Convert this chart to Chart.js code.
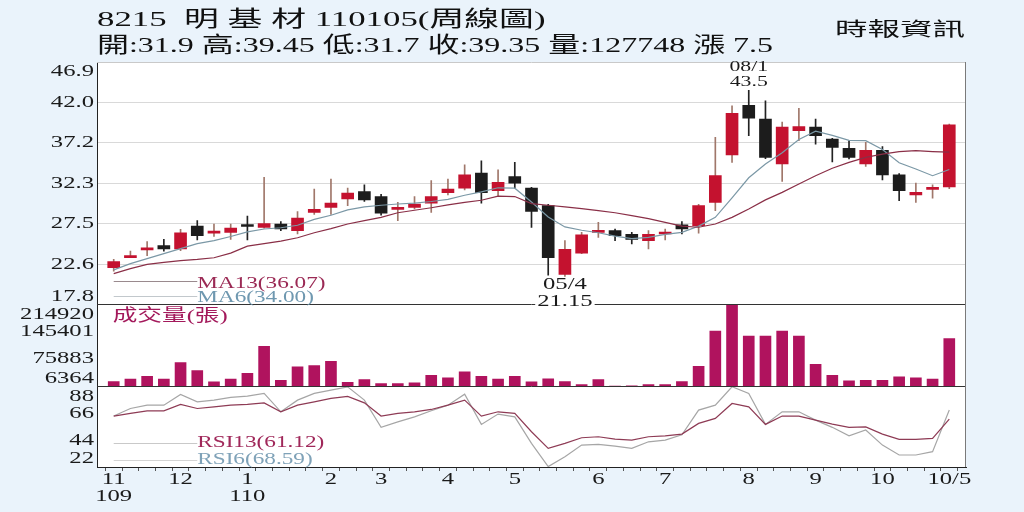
<!DOCTYPE html>
<html>
<head>
<meta charset="utf-8">
<script src="https://cdn.jsdelivr.net/npm/chart.js@4.4.1/dist/chart.umd.min.js"></script>
<style>
  html, body { margin: 0; padding: 0; background: #eaf3fb; width: 1024px; height: 512px; overflow: hidden; }
  #wrap { position: relative; width: 1024px; height: 512px; }
  #c { position: absolute; left: 0; top: 0; }
  .t { position: absolute; font-family: "Liberation Serif", "Noto Sans CJK TC", serif; color: #111;
       white-space: pre; line-height: 1; transform-origin: 0 0; }
</style>
</head>
<body>
<div id="wrap">
  <canvas id="c" width="1024" height="512"></canvas>
  <div class="t" data-w="448" style="left:97px;top:8px;font-size:22px">8215  明 基 材 110105(周線圖)</div>
  <div class="t" data-w="676" style="left:97px;top:34px;font-size:22px">開:31.9 高:39.45 低:31.7 收:39.35 量:127748 漲 7.5</div>
  <div class="t" data-w="130" style="left:835px;top:20px;font-size:19px">時報資訊</div>
</div>
<script>
// weekly candles, 109/11 -> 110/10
var openP  = [22.2, 23.4, 24.35, 24.85, 24.45, 27.2, 26.35, 26.45, 27.35, 27.05, 27.45, 26.65, 28.85, 29.45, 30.45, 31.35, 30.75,
              29.2, 29.45, 29.95, 31.2, 31.75, 33.55, 31.45, 33.15, 31.75, 29.65, 21.4, 23.95, 26.45, 26.65, 26.2, 25.45, 26.25,
              27.35, 27.25, 30.05, 35.75, 41.7, 40.05, 34.65, 38.65, 39.1, 37.65, 36.55, 34.65, 36.3, 33.35, 30.95, 31.6, 31.9];
var highP  = [23.2, 24.2, 25.35, 25.6, 26.8, 27.85, 27.45, 27.45, 28.4, 33.05, 27.75, 28.95, 31.65, 32.85, 31.75, 32.15, 31.0,
              30.05, 30.75, 32.65, 32.85, 34.55, 35.05, 33.95, 34.85, 31.85, 29.8, 25.45, 26.45, 27.65, 26.85, 26.45, 26.65, 26.85,
              27.75, 29.8, 37.85, 41.65, 43.5, 42.25, 39.7, 41.35, 40.05, 37.75, 37.45, 37.25, 36.75, 33.5, 32.35, 32.15, 39.45];
var lowP   = [21.8, 23.4, 23.65, 24.2, 24.25, 25.55, 25.95, 25.6, 25.55, 26.95, 26.65, 26.25, 28.6, 28.6, 29.65, 30.15, 28.5,
              27.85, 29.25, 28.85, 30.95, 31.55, 29.95, 30.75, 31.75, 27.05, 21.3, 21.15, 23.9, 25.85, 25.45, 25.05, 24.45, 25.55,
              26.25, 26.35, 29.05, 34.85, 38.05, 35.3, 32.55, 37.45, 37.05, 34.9, 35.25, 34.35, 32.75, 30.25, 30.05, 30.55, 31.7];
var closeP = [22.95, 23.65, 24.55, 24.45, 26.4, 26.05, 26.55, 26.95, 27.15, 27.5, 26.85, 28.15, 29.2, 29.95, 31.15, 30.35, 28.75,
              29.45, 29.85, 30.75, 31.65, 33.35, 31.2, 32.45, 32.35, 28.95, 23.4, 24.4, 26.15, 26.65, 26.05, 25.6, 26.2, 26.45,
              26.85, 29.65, 33.25, 40.75, 40.15, 35.45, 39.1, 39.15, 38.05, 36.65, 35.45, 36.3, 33.35, 31.45, 31.25, 31.75, 39.35];
var ma6  = [21.95, 22.7, 23.3, 23.9, 24.5, 25.1, 25.45, 25.95, 26.5, 26.85, 27.0, 27.3, 28.0, 28.5, 29.15, 29.5, 29.7,
            29.85, 29.95, 30.15, 30.4, 30.9, 31.3, 31.8, 31.75, 30.1, 28.3, 27.1, 26.7, 26.4, 26.0, 25.7, 25.85, 26.2,
            26.45, 27.2, 28.25, 30.6, 33.0, 34.65, 36.0, 37.6, 38.6, 38.1, 37.5, 37.45, 36.4, 34.8, 34.05, 33.25, 34.0];
var ma13 = [21.5, 22.1, 22.6, 22.85, 23.05, 23.2, 23.4, 23.95, 24.8, 25.1, 25.4, 25.8, 26.4, 26.9, 27.45, 27.85, 28.25,
            28.8, 29.1, 29.4, 29.75, 30.05, 30.3, 30.8, 30.75, 29.9, 29.7, 29.5, 29.3, 29.05, 28.8, 28.45, 28.1, 27.65,
            27.2, 27.06, 27.45, 28.25, 29.25, 30.35, 31.25, 32.25, 33.25, 34.15, 34.85, 35.45, 35.85, 36.15, 36.25, 36.15, 36.07];
var volume = [18300, 24200, 31800, 24200, 66600, 46300, 17300, 24200, 39400, 108000, 21600, 55500, 59000, 70000, 16500, 23400, 13200,
              13200, 14800, 34300, 27500, 42700, 31800, 24200, 31800, 17300, 25000, 18300, 10700, 23400, 6900, 7100, 10700, 10700,
              18300, 57200, 147000, 214920, 134300, 134300, 147000, 134300, 62300, 34300, 19800, 21600, 21600, 30000, 27500, 24200, 127748];
var rsi13 = [63.6, 65.8, 67.9, 67.9, 73.1, 69.8, 71.1, 72.5, 73.1, 74.4, 67.1, 72.5, 75.2, 78.0, 79.6, 74.4, 63.6,
             65.8, 67.1, 69.0, 72.5, 76.6, 63.6, 67.1, 65.8, 50.8, 37.2, 41.3, 45.9, 46.7, 44.8, 44.0, 46.7, 47.5,
             48.9, 57.6, 61.7, 73.9, 71.1, 56.8, 63.6, 63.6, 60.3, 57.0, 54.4, 54.8, 48.9, 44.6, 44.6, 45.4, 61.12];
var rsi6 = [63.6, 69.8, 72.5, 72.5, 81.2, 75.2, 76.6, 78.8, 79.9, 82.1, 67.1, 76.6, 82.1, 84.8, 87.5, 76.6, 54.4,
            58.9, 63.0, 67.9, 72.5, 81.5, 56.8, 65.2, 63.0, 41.3, 22.3, 30.4, 39.9, 40.5, 39.1, 37.2, 42.6, 44.0,
            48.3, 68.5, 72.5, 87.5, 82.1, 56.8, 67.1, 67.1, 60.3, 54.4, 47.5, 52.2, 39.9, 31.8, 31.8, 34.5, 68.59];

var priceTicks = [17.8, 22.6, 27.5, 32.3, 37.2, 42.0, 46.9];
var volTicks = [6364, 75883, 145401, 214920];
var rsiTicks = [22, 44, 66, 88];
var monthIdx = [0, 4, 8, 13, 16, 20, 24, 29, 33, 38, 42, 46, 50];
var monthLabels = [['11', '109'], ['12'], ['1', '110'], ['2'], ['3'], ['4'], ['5'], ['6'], ['7'], ['8'], ['9'], ['10'], ['10/5']];

var SX = 1.45;
var FONT = '"Liberation Serif","Noto Sans CJK TC",serif';
var UP = '#c4122f', DOWN = '#1c1c1c';

// stretch the header lines to the widths of the picture
function fitHeader() {
  document.querySelectorAll('.t').forEach(function (el) {
    el.style.transform = 'none';
    el.style.transform = 'scaleX(' + (el.dataset.w / el.offsetWidth) + ')';
  });
}
fitHeader();
if (document.fonts) document.fonts.ready.then(fitHeader);

function drawText(ctx, s, x, y, size, color, align, bg) {
  ctx.save();
  ctx.font = size + 'px ' + FONT;
  ctx.textBaseline = 'middle';
  ctx.textAlign = 'left';
  var w = ctx.measureText(s).width * SX;
  var x0 = align == 'right' ? x - w : align == 'center' ? x - w / 2 : x;
  if (bg) {
    ctx.fillStyle = bg;
    ctx.fillRect(x0 - 2, y - size / 2, w + 4, size);
  }
  ctx.fillStyle = color;
  ctx.translate(x0, y);
  ctx.scale(SX, 1);
  ctx.fillText(s, 0, 0);
  ctx.restore();
}

function hline(ctx, x1, x2, y, color) {
  ctx.beginPath();
  ctx.strokeStyle = color;
  ctx.moveTo(x1, Math.round(y) + 0.5);
  ctx.lineTo(x2, Math.round(y) + 0.5);
  ctx.stroke();
}

var panels = {
  id: 'panels',
  beforeDraw: function (chart) {
    var a = chart.chartArea, ctx = chart.ctx;
    ctx.save();
    ctx.fillStyle = '#fff';
    ctx.fillRect(a.left, a.top, a.right - a.left, a.bottom - a.top);
    ctx.restore();
  },
  afterDraw: function (chart) {
    var ctx = chart.ctx, a = chart.chartArea, s = chart.scales;
    var x = s.x, yP = s.yP, yV = s.yV, yR = s.yR;
    ctx.save();
    ctx.lineWidth = 1;
    hline(ctx, a.left, a.right, a.top, '#c9c9c9');
    hline(ctx, a.left, a.right, yV.top, '#333');
    hline(ctx, a.left, a.right, yR.top, '#333');
    ctx.beginPath();
    ctx.strokeStyle = '#7a7a7a';
    ctx.moveTo(Math.round(a.right) - 0.5, a.top);
    ctx.lineTo(Math.round(a.right) - 0.5, a.bottom);
    ctx.stroke();

    // y labels, end labels kept inside their panel
    [[yP, priceTicks, function (v) { return v.toFixed(1); }],
     [yV, volTicks, String],
     [yR, rsiTicks, String]].forEach(function (p) {
      p[1].forEach(function (v) {
        var py = p[0].getPixelForValue(v);
        py = Math.min(Math.max(py, p[0].top + 10), p[0].bottom - 8);
        drawText(ctx, p[2](v), a.left - 3, py, 17, '#1a1a1a', 'right');
      });
    });

    // month labels
    monthIdx.forEach(function (i, k) {
      var px = x.getPixelForValue(i);
      monthLabels[k].forEach(function (t, r) {
        drawText(ctx, t, px, a.bottom + 13 + r * 17, 17, '#1a1a1a', 'center');
      });
    });

    // legends
    var lx0 = x.getPixelForValue(0), lx1 = x.getPixelForValue(5);
    hline(ctx, lx0, lx1, yP.bottom - 23, '#9a8a8e');
    hline(ctx, lx0, lx1, yP.bottom - 8, '#c2c8cc');
    drawText(ctx, 'MA13(36.07)', lx1, yP.bottom - 21, 16, '#9b2a55', 'left');
    drawText(ctx, 'MA6(34.00)', lx1, yP.bottom - 7, 16, '#6f98b0', 'left');
    hline(ctx, lx0, lx1, yR.bottom - 24, '#c9c9c9');
    hline(ctx, lx0, lx1, yR.bottom - 7, '#d4d4d4');
    drawText(ctx, 'RSI13(61.12)', lx1, yR.bottom - 24, 16, '#a0285a', 'left');
    drawText(ctx, 'RSI6(68.59)', lx1, yR.bottom - 7, 16, '#7fa2b8', 'left');
    drawText(ctx, '成交量(張)', lx0 - 1, yV.top + 12, 17, '#a3195b', 'left');

    // high / low notes
    var hi = highP.indexOf(Math.max.apply(null, highP));
    var lo = lowP.indexOf(Math.min.apply(null, lowP));
    var hy = yP.getPixelForValue(highP[hi]);
    drawText(ctx, '08/1', x.getPixelForValue(hi), hy - 23, 15, '#1a1a1a', 'center');
    drawText(ctx, String(highP[hi]), x.getPixelForValue(hi), hy - 8, 15, '#1a1a1a', 'center');
    var ly = yP.getPixelForValue(lowP[lo]);
    drawText(ctx, '05/4', x.getPixelForValue(lo), ly + 8, 17, '#1a1a1a', 'center');
    drawText(ctx, String(lowP[lo]), x.getPixelForValue(lo), ly + 25, 17, '#1a1a1a', 'center', '#fff');
    ctx.restore();
  }
};

var up = openP.map(function (o, i) { return closeP[i] >= o; });
function pts(arr) { return arr.map(function (v, i) { return { x: i, y: v }; }); }

var ctx = document.getElementById('c').getContext('2d');
var chart = new Chart(ctx, {
  data: {
    datasets: [
      { type: 'line', yAxisID: 'yP', data: pts(ma13), borderColor: '#8a2f47', borderWidth: 1.2, pointRadius: 0, order: 0 },
      { type: 'line', yAxisID: 'yP', data: pts(ma6), borderColor: '#7b98a6', borderWidth: 1.2, pointRadius: 0, order: 0 },
      { type: 'bar', yAxisID: 'yP', grouped: false, order: 1, barThickness: 12, minBarLength: 2,
        data: openP.map(function (o, i) { return { x: i, y: [o, closeP[i]] }; }),
        backgroundColor: up.map(function (u) { return u ? UP : DOWN; }) },
      { type: 'bar', yAxisID: 'yP', grouped: false, order: 2, barThickness: 1,
        data: lowP.map(function (l, i) { return { x: i, y: [l, highP[i]] }; }),
        backgroundColor: up.map(function (u) { return u ? '#a0776a' : '#222'; }) },
      { type: 'bar', yAxisID: 'yV', grouped: false, barThickness: 11, data: pts(volume), backgroundColor: '#b0135e' },
      { type: 'line', yAxisID: 'yR', data: pts(rsi13), borderColor: '#8e3b55', borderWidth: 1.2, pointRadius: 0, order: 0 },
      { type: 'line', yAxisID: 'yR', data: pts(rsi6), borderColor: '#a6a6a6', borderWidth: 1.2, pointRadius: 0, order: 0 }
    ]
  },
  options: {
    responsive: false,
    animation: false,
    devicePixelRatio: 1,
    layout: { padding: { top: 62, right: 58, left: 0, bottom: 0 } },
    plugins: { legend: { display: false }, tooltip: { enabled: false } },
    scales: {
      x: {
        type: 'linear', min: -1, max: 51, offset: false,
        afterBuildTicks: function (s) { s.ticks = openP.map(function (o, i) { return { value: i }; }); },
        ticks: { display: false, autoSkip: false },
        grid: { drawOnChartArea: false, drawTicks: true, tickLength: 4, color: '#555' },
        border: { color: '#222' },
        afterFit: function (s) { s.height = 45; }
      },
      yR: {
        type: 'linear', position: 'left', stack: 'main', stackWeight: 81, min: 22, max: 88,
        ticks: { display: false }, grid: { display: false }, border: { color: '#222' },
        afterFit: function (s) { s.width = 97; }
      },
      yV: {
        type: 'linear', position: 'left', stack: 'main', stackWeight: 82, min: 6364, max: 214920,
        ticks: { display: false }, grid: { display: false }, border: { color: '#222' },
        afterFit: function (s) { s.width = 97; }
      },
      yP: {
        type: 'linear', position: 'left', stack: 'main', stackWeight: 243, min: 17.8, max: 46.9,
        afterBuildTicks: function (s) { s.ticks = priceTicks.map(function (v) { return { value: v }; }); },
        ticks: { display: false },
        grid: {
          drawTicks: false,
          color: function (c) {
            var v = c.tick && c.tick.value;
            return (v > 17.8 && v < 46.9) ? '#d9d9d9' : 'rgba(0,0,0,0)';
          }
        },
        border: { color: '#222' },
        afterFit: function (s) { s.width = 97; }
      }
    }
  },
  plugins: [panels]
});
</script>
</body>
</html>
